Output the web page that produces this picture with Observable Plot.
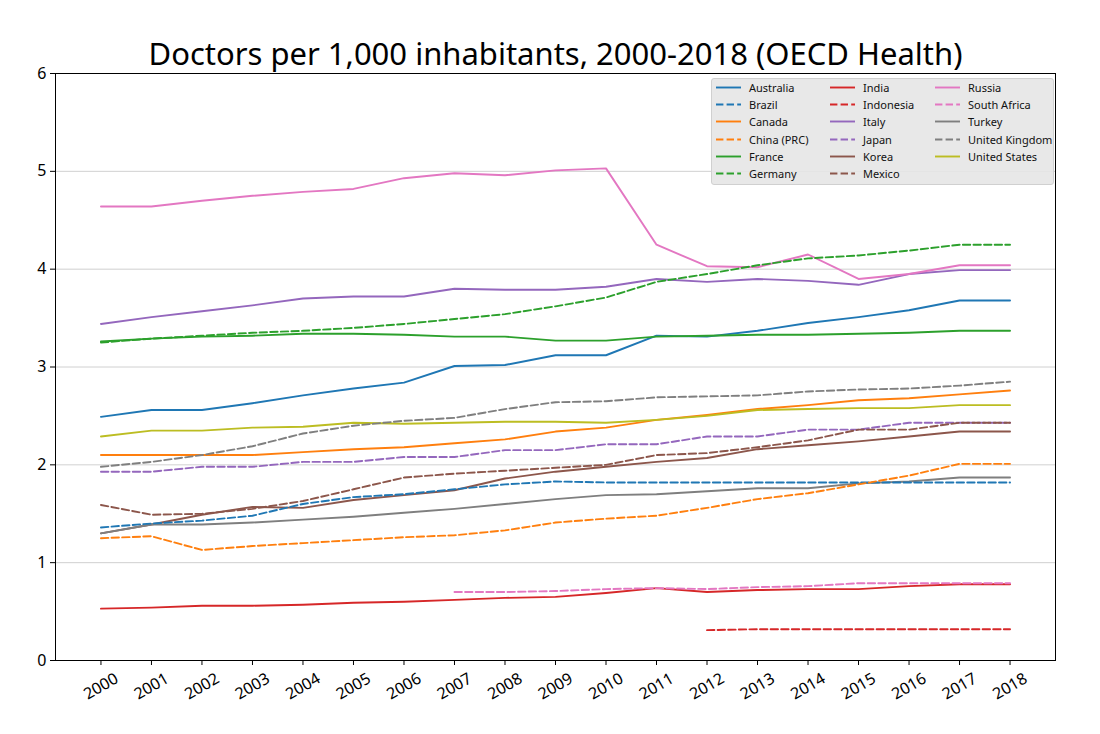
<!DOCTYPE html>
<html>
<head>
<meta charset="utf-8">
<script src="https://cdn.jsdelivr.net/npm/d3@7"></script>
<script src="https://cdn.jsdelivr.net/npm/@observablehq/plot@0.6"></script>
<style>
  body { margin: 0; background: #fff; font-family: "Noto Sans", sans-serif; }
  #wrap { position: relative; width: 1100px; height: 734px; }
  #legend { position: absolute; left: 711px; top: 78px; width: 341px; height: 105px;
    background: rgba(229,229,229,0.9); border: 1px solid #d0d0d0; border-radius: 3px;
    font-size: 11px; color: #111; }
  .item { position: absolute; height: 17px; line-height: 17px; white-space: nowrap; }
  .item svg { position: absolute; left: 0; top: 0; }
  .item span { position: absolute; left: 34px; top: 0; }
</style>
</head>
<body>
<div id="wrap"></div>
<script>
const years = [2000,2001,2002,2003,2004,2005,2006,2007,2008,2009,2010,2011,2012,2013,2014,2015,2016,2017,2018];
const yTicks = [0,1,2,3,4,5,6];
const countries = ["Australia","Brazil","Canada","China (PRC)","France","Germany","India","Indonesia","Italy","Japan","Korea","Mexico","Russia","South Africa","Turkey","United Kingdom","United States"];
const colors = ["#1f77b4","#1f77b4","#ff7f0e","#ff7f0e","#2ca02c","#2ca02c","#d62728","#d62728","#9467bd","#9467bd","#8c564b","#8c564b","#e377c2","#e377c2","#7f7f7f","#7f7f7f","#bcbd22"];
const dashed = [false,true,false,true,false,true,false,true,false,true,false,true,false,true,false,true,false];

const australia = [2.49,2.56,2.56,2.63,2.71,2.78,2.84,3.01,3.02,3.12,3.12,3.32,3.31,3.37,3.45,3.51,3.58,3.68,3.68];
const brazil = [1.36,1.40,1.43,1.48,1.60,1.67,1.70,1.75,1.80,1.83,1.82,1.82,1.82,1.82,1.82,1.82,1.82,1.82,1.82];
const canada = [2.10,2.10,2.10,2.10,2.13,2.16,2.18,2.22,2.26,2.34,2.38,2.46,2.51,2.57,2.61,2.66,2.68,2.72,2.76];
const china = [1.25,1.27,1.13,1.17,1.20,1.23,1.26,1.28,1.33,1.41,1.45,1.48,1.56,1.65,1.71,1.80,1.89,2.01,2.01];
const france = [3.26,3.29,3.31,3.32,3.34,3.34,3.33,3.31,3.31,3.27,3.27,3.31,3.32,3.33,3.33,3.34,3.35,3.37,3.37];
const germany = [3.25,3.29,3.32,3.35,3.37,3.40,3.44,3.49,3.54,3.62,3.71,3.87,3.95,4.04,4.11,4.14,4.19,4.25,4.25];
const india = [0.53,0.54,0.56,0.56,0.57,0.59,0.60,0.62,0.64,0.65,0.69,0.74,0.70,0.72,0.73,0.73,0.76,0.78,0.78];
const indonesia = [null,null,null,null,null,null,null,null,null,null,null,null,0.31,0.32,0.32,0.32,0.32,0.32,0.32];
const italy = [3.44,3.51,3.57,3.63,3.70,3.72,3.72,3.80,3.79,3.79,3.82,3.90,3.87,3.90,3.88,3.84,3.95,3.99,3.99];
const japan = [1.93,1.93,1.98,1.98,2.03,2.03,2.08,2.08,2.15,2.15,2.21,2.21,2.29,2.29,2.36,2.36,2.43,2.43,2.43];
const korea = [1.30,1.39,1.49,1.57,1.56,1.64,1.69,1.74,1.86,1.93,1.98,2.03,2.07,2.16,2.20,2.24,2.29,2.34,2.34];
const mexico = [1.59,1.49,1.50,1.55,1.63,1.75,1.87,1.91,1.94,1.97,2.00,2.10,2.12,2.18,2.25,2.36,2.36,2.43,2.43];
const russia = [4.64,4.64,4.70,4.75,4.79,4.82,4.93,4.98,4.96,5.01,5.03,4.25,4.03,4.02,4.15,3.90,3.95,4.04,4.04];
const southAfrica = [null,null,null,null,null,null,null,0.70,0.70,0.71,0.73,0.74,0.73,0.75,0.76,0.79,0.79,0.79,0.79];
const turkey = [1.30,1.39,1.39,1.41,1.44,1.47,1.51,1.55,1.60,1.65,1.69,1.70,1.73,1.76,1.76,1.81,1.83,1.87,1.87];
const uk = [1.98,2.03,2.10,2.19,2.32,2.40,2.45,2.48,2.57,2.64,2.65,2.69,2.70,2.71,2.75,2.77,2.78,2.81,2.85];
const us = [2.29,2.35,2.35,2.38,2.39,2.43,2.42,2.43,2.44,2.44,2.43,2.46,2.50,2.56,2.57,2.58,2.58,2.61,2.61];

const seriesValues = [australia,brazil,canada,china,france,germany,india,indonesia,italy,japan,korea,mexico,russia,southAfrica,turkey,uk,us];

const rows = [];
countries.forEach((c, i) => {
  seriesValues[i].forEach((v, j) => {
    if (v != null) rows.push({country: c, year: years[j], value: v, color: colors[i], dashed: dashed[i]});
  });
});

const title = "Doctors per 1,000 inhabitants, 2000-2018 (OECD Health)";
const DASH = "7.4,3.2";

const chart = Plot.plot({
  width: 1100,
  height: 734,
  marginLeft: 55,
  marginRight: 45,
  marginTop: 73,
  marginBottom: 74,
  style: {fontFamily: "'Noto Sans', sans-serif", fontSize: "16px", color: "#000", background: "#fff"},
  x: {type: "linear", domain: [1999.1, 2018.9], axis: null, label: null},
  y: {type: "linear", domain: [0, 6], axis: null, label: null},
  color: {type: "identity"},
  marks: [
    Plot.gridY(yTicks.filter(d => d > 0 && d < 6), {stroke: "#b0b0b0", strokeOpacity: 0.6, strokeWidth: 1}),
    Plot.line(rows.filter(d => !d.dashed), {x: "year", y: "value", z: "country", stroke: "color", strokeWidth: 1.9}),
    Plot.line(rows.filter(d => d.dashed), {x: "year", y: "value", z: "country", stroke: "color", strokeWidth: 1.9, strokeDasharray: DASH}),
    Plot.frame({stroke: "#000", strokeWidth: 1}),
    Plot.axisX({ticks: years, tickSize: 5, tickFormat: () => "", stroke: "#000", label: null}),
    Plot.axisY({ticks: yTicks, tickSize: 5, tickPadding: 4, tickFormat: d => String(d), fontSize: 16, stroke: "#000", fill: "#000", label: null}),
    Plot.text(years, {x: d => d, frameAnchor: "bottom", dy: 26, lineAnchor: "middle", text: d => String(d), rotate: -30, textAnchor: "middle", fontSize: 16, fill: "#000"}),
    Plot.text([title], {frameAnchor: "top", dy: -31, text: d => d, fontSize: 31, fill: "#000"})
  ]
});

const wrap = document.getElementById("wrap");
wrap.appendChild(chart);

const legend = document.createElement("div");
legend.id = "legend";
const colX = [3, 117, 222];
countries.forEach((c, i) => {
  const col = Math.floor(i / 6), row = i % 6;
  const item = document.createElement("div");
  item.className = "item";
  item.style.left = colX[col] + "px";
  item.style.top = (0 + row * 17.2) + "px";
  const dash = dashed[i] ? ` stroke-dasharray="${DASH}"` : "";
  item.innerHTML = `<svg width="30" height="17"><line x1="1" x2="26" y1="8.5" y2="8.5" stroke="${colors[i]}" stroke-width="1.9"${dash}/></svg><span>${c}</span>`;
  legend.appendChild(item);
});
wrap.appendChild(legend);
</script>
</body>
</html>
